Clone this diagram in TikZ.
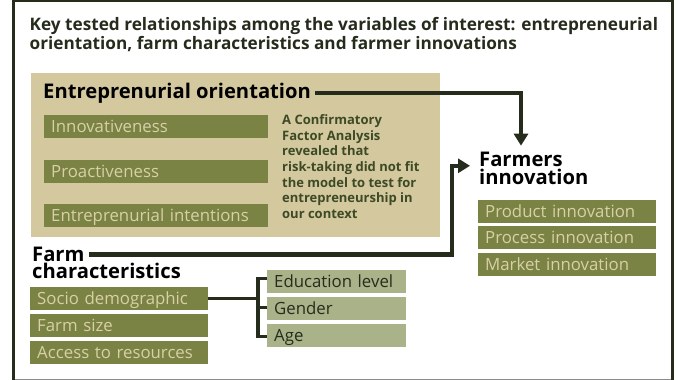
\documentclass[tikz,border=0pt]{standalone}
\usepackage{fontspec}
\setmainfont{Open Sans}
\usetikzlibrary{arrows.meta,calc}
\definecolor{olive}{HTML}{7A8343}
\definecolor{olivetext}{HTML}{D8D0A7}
\definecolor{tan}{HTML}{D3C89E}
\definecolor{lightolive}{HTML}{AAB28A}
\definecolor{darkline}{HTML}{252C1C}
\definecolor{cfatext}{HTML}{3D4A25}
\definecolor{framegray}{HTML}{8C8C8C}
\tikzset{
  obox/.style={anchor=north west, fill=olive, text=olivetext, inner xsep=7pt, inner ysep=0pt,
    minimum height=23pt, text height=12pt, text depth=0pt, text width=#1, align=left,
    font=\fontsize{16.8}{16.8}\selectfont},
  lbox/.style={obox=#1, fill=lightolive, text=darkline},
  head/.style={anchor=base west, inner sep=0pt, text=black, font=\fontsize{20.2}{20}\selectfont\bfseries},
  conn/.style={draw=darkline, line width=4.3pt},
  brk/.style={draw=darkline, line width=3.4pt},
  tip/.style={-{Triangle[length=12pt,width=14pt]}},
}
\begin{document}
\begin{tikzpicture}[x=1pt,y=-1pt]
\useasboundingbox (0,0) rectangle (678,380);
\fill[white] (0,0) rectangle (678,380);
% frame
\draw[darkline, line width=1.5pt] (12,0.8) -- (674,0.8);
\draw[framegray, line width=1.2pt] (12,379.2) -- (674,379.2);
\draw[darkline, line width=3.3pt] (13.6,0) -- (13.6,380);
\draw[darkline, line width=3.3pt] (672.4,0) -- (672.4,380);
% title
\node[anchor=north west, inner sep=0pt, align=left, text=darkline,
      font=\fontsize{17.2}{17}\selectfont\bfseries] (title) at (29.5,17.5)
  {Key tested relationships among the variables of interest: entrepreneurial\\
   orientation, farm characteristics and farmer innovations};
% entrepreneurial orientation panel
\node[anchor=north west, fill=tan, inner sep=0pt, minimum width=409pt, minimum height=164.7pt] (eobg) at (31,72.3) {};
\node[head] (eo) at (43,98) {Entreprenurial orientation};
\node[obox=210pt] (innov) at (44,115) {Innovativeness};
\node[obox=210pt] (proact) at (44,160) {Proactiveness};
\node[obox=210pt] (intent) at (44,204) {Entreprenurial intentions};
\node[anchor=north west, inner sep=0pt, align=left, text=cfatext,
      font=\fontsize{13}{15.6}\selectfont\bfseries] (cfa) at (282,114.5)
  {A Confirmatory\\Factor Analysis\\revealed that\\risk-taking did not fit\\the model to test for\\entrepreneurship in\\our context};
% farmers innovation
\node[head] (fa) at (479,166.8) {Farmers};
\node[head] (fb) at (479,184.5) {innovation};
\node[obox=164pt] (product) at (478,199.5) {Product innovation};
\node[obox=164pt] (process) at (478,226) {Process innovation};
\node[obox=164pt] (market) at (478,253) {Market innovation};
% farm characteristics
\node[head] (farm) at (32,261.7) {Farm};
\node[head] (farmb) at (32,278.6) {characteristics};
\node[obox=164pt] (socio) at (30,287) {Socio demographic};
\node[obox=164pt] (size) at (30,314) {Farm size};
\node[obox=164pt] (access) at (30,341) {Access to resources};
\node[lbox=125pt] (edu) at (267,270) {Education level};
\node[lbox=125pt] (gender) at (267,297) {Gender};
\node[lbox=125pt] (age) at (267,324) {Age};
% connectors
\draw[conn, tip] ([xshift=4pt]eo.east) -| ([xshift=42pt,yshift=6.5pt]fa.north west);
\draw[conn, tip] ([xshift=4pt]farm.east) -| ([xshift=-27pt,yshift=1pt]fa.base west) -- ([xshift=-9pt,yshift=1pt]fa.base west);
% bracket
\draw[brk] (socio.east) -- ++(50,0);
\draw[brk] ([yshift=3pt]edu.west) -- ++(-9,0) |- ([yshift=-1pt]age.west);
\draw[brk] ([yshift=1pt]gender.west) -- ++(-9,0);
\end{tikzpicture}
\end{document}
